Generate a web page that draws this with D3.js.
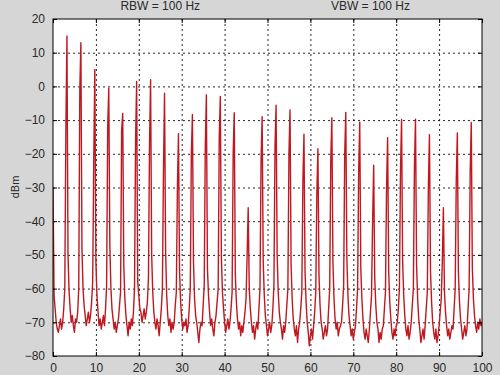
<!DOCTYPE html>
<html><head><meta charset="utf-8">
<script src="https://cdn.jsdelivr.net/npm/d3@7"></script>
<style>body{margin:0;background:#d6d6d6} svg{display:block}</style>
</head><body><svg id="c" width="500" height="375"></svg>
<script>
const titles = ["RBW = 100 Hz", "VBW = 100 Hz"];
const titleFreqs = [25, 74];
const yLabel = "dBm";
const xTicks = [0,10,20,30,40,50,60,70,80,90,100];
const yTicks = [-80,-70,-60,-50,-40,-30,-20,-10,0,10,20];
const freqStep = 0.25;
// trace level (dBm) at every 0.25 frequency step, one row per harmonic interval
const traceLevels = [
  -30, -62, -66, -70, -72, -73, -71, -69, -72, -70, -66, -60, -13,
  15, -50, -61, -66, -70, -68, -71, -73, -69, -70, -67, -60, -1,
  13, -48, -60, -65, -68, -71, -69, -67, -70, -68, -64, -58, -22,
  5, -52, -62, -67, -71, -69, -72, -70, -68, -71, -66, -59, -12,
  -0.5, -47, -60, -66, -69, -72, -70, -73, -71, -69, -65, -61, -13,
  -8, -53, -63, -68, -71, -74, -70, -72, -69, -71, -67, -60, -16,
  1.5, -58, -62, -66, -67, -70, -68, -66, -69, -67, -64, -57, -17,
  2, -50, -61, -67, -70, -72, -69, -71, -74, -70, -66, -60, -25,
  -2, -49, -62, -68, -71, -69, -73, -70, -72, -70, -65, -61, -30,
  -14, -55, -64, -69, -72, -70, -71, -69, -73, -71, -66, -60, -20,
  -8.3, -52, -63, -68, -70, -73, -76, -72, -70, -71, -65, -59, -18,
  -2.5, -54, -62, -67, -71, -69, -72, -74, -70, -68, -64, -60, -15,
  -3, -51, -61, -66, -70, -73, -71, -69, -72, -70, -66, -61, -20,
  -7.8, -56, -64, -69, -72, -70, -74, -71, -73, -70, -67, -63, -50,
  -36, -60, -66, -70, -73, -71, -75, -72, -70, -72, -66, -60, -22,
  -9, -52, -62, -68, -71, -74, -72, -70, -73, -71, -66, -59, -18,
  -5.6, -50, -61, -67, -70, -72, -75, -71, -73, -70, -65, -60, -20,
  -7, -53, -63, -69, -72, -74, -71, -76, -72, -70, -66, -61, -28,
  -14.2, -55, -64, -70, -73, -77, -74, -72, -75, -71, -67, -61, -32,
  -18.5, -56, -65, -70, -72, -75, -73, -71, -74, -72, -66, -60, -22,
  -9.3, -52, -63, -69, -72, -70, -74, -72, -71, -70, -65, -59, -20,
  -7.7, -51, -62, -68, -71, -74, -72, -75, -73, -71, -66, -60, -25,
  -10.6, -54, -63, -69, -73, -75, -72, -74, -76, -72, -67, -62, -40,
  -23.4, -57, -65, -70, -72, -76, -73, -75, -72, -71, -66, -61, -30,
  -15.2, -55, -64, -69, -73, -75, -72, -74, -71, -70, -66, -60, -25,
  -9.8, -52, -62, -68, -72, -74, -71, -75, -73, -70, -65, -60, -24,
  -9.7, -53, -63, -69, -72, -76, -74, -72, -75, -71, -66, -61, -30,
  -14.3, -55, -64, -70, -73, -75, -72, -76, -74, -71, -67, -63, -52,
  -36, -61, -67, -71, -74, -72, -75, -73, -71, -72, -66, -60, -28,
  -13.8, -55, -64, -69, -72, -75, -73, -71, -74, -72, -66, -60, -25,
  -10.7, -54, -63, -68, -71, -73, -70, -72, -69, -71, -70
];

const svg = d3.select("#c");
const L = 53, R = 482, T = 19, B = 356;
const x = d3.scaleLinear().domain([0, 100]).range([L, R]);
const y = d3.scaleLinear().domain([-80, 20]).range([B, T]);
const font = "'Liberation Sans', Arial, sans-serif";

svg.append("rect").attr("width", 500).attr("height", 375).attr("fill", "#d6d6d6");
svg.append("rect").attr("x", L).attr("y", T).attr("width", R - L).attr("height", B - T).attr("fill", "#fff");

// grid
const gx = svg.append("g").attr("transform", `translate(0,${B})`)
  .call(d3.axisBottom(x).tickValues(xTicks.slice(1, -1)).tickSize(-(B - T)).tickFormat(""));
const gy = svg.append("g").attr("transform", `translate(${L},0)`)
  .call(d3.axisLeft(y).tickValues(yTicks.slice(1, -1)).tickSize(-(R - L)).tickFormat(""));
[gx, gy].forEach(g => {
  g.select(".domain").remove();
  g.selectAll("line").attr("stroke", "#000").attr("stroke-opacity", 0.85).attr("stroke-dasharray", "2,3");
});

// trace
svg.append("clipPath").attr("id", "clip").append("rect")
  .attr("x", L).attr("y", T).attr("width", R - L).attr("height", B - T);
const line = d3.line().x((d, i) => x(i * freqStep)).y(d => y(d));
svg.append("path").datum(traceLevels).attr("clip-path", "url(#clip)")
  .attr("d", line).attr("fill", "none").attr("stroke", "#c01820").attr("stroke-width", 1.4)
  .attr("stroke-linejoin", "round");

// axes with inward ticks
function styleAxis(g) {
  g.select(".domain").remove();
  g.selectAll("line").attr("stroke", "#000");
  g.selectAll("text").attr("fill", "#2a2a2a").style("font-family", font).style("font-size", "12px");
}
svg.append("g").attr("transform", `translate(0,${B})`)
  .call(d3.axisBottom(x).tickValues(xTicks).tickSize(-4).tickPadding(7))
  .call(styleAxis);
svg.append("g").attr("transform", `translate(0,${T})`)
  .call(d3.axisTop(x).tickValues(xTicks).tickSize(-4).tickFormat(""))
  .call(styleAxis);
svg.append("g").attr("transform", `translate(${L},0)`)
  .call(d3.axisLeft(y).tickValues(yTicks).tickSize(-4).tickPadding(8))
  .call(styleAxis);
svg.append("g").attr("transform", `translate(${R},0)`)
  .call(d3.axisRight(y).tickValues(yTicks).tickSize(-4).tickFormat(""))
  .call(styleAxis);

svg.append("rect").attr("x", L).attr("y", T).attr("width", R - L).attr("height", B - T)
  .attr("fill", "none").attr("stroke", "#000").attr("stroke-width", 1);

// titles
svg.selectAll(".title").data(titles).join("text")
  .attr("x", (d, i) => x(titleFreqs[i])).attr("y", 10)
  .attr("text-anchor", "middle").attr("fill", "#2a2a2a")
  .style("font-family", font).style("font-size", "12px").text(d => d);

svg.append("text").attr("transform", "translate(19,187) rotate(-90)")
  .attr("text-anchor", "middle").attr("fill", "#2a2a2a")
  .style("font-family", font).style("font-size", "11px").text(yLabel);
</script></body></html>
